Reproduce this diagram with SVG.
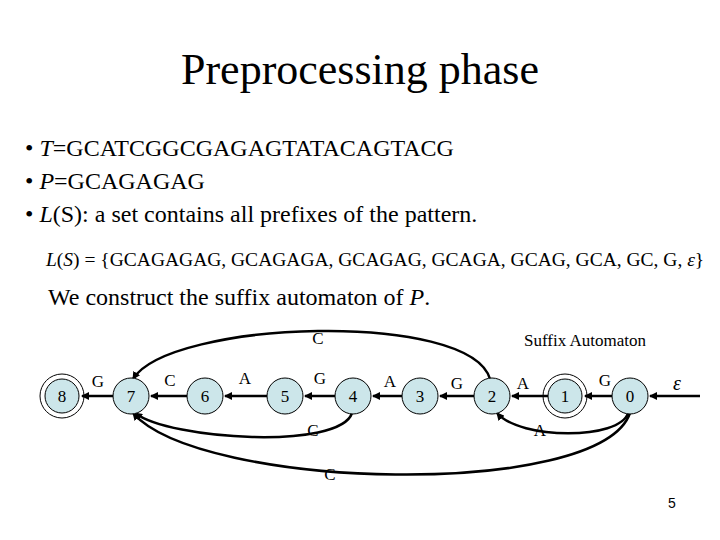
<svg xmlns="http://www.w3.org/2000/svg" width="720" height="540" viewBox="0 0 720 540">
<style>
.t{font-family:"Liberation Serif",serif;fill:#000}
.n circle{fill:#cce6ea;stroke:#000;stroke-width:1}
.n text{font-family:"Liberation Serif",serif;font-size:17px;text-anchor:middle}
.e path{fill:none;stroke:#000;stroke-width:2.5;marker-end:url(#a)}
.l{font-family:"Liberation Serif",serif;font-size:17px;text-anchor:middle}
</style>
<defs><marker id="a" markerWidth="8" markerHeight="8" refX="7" refY="4" orient="auto" markerUnits="userSpaceOnUse"><path d="M0,0L8,4L0,8z" fill="#000"/></marker></defs>
<rect width="720" height="540" fill="#fff"/>
<text class="t" x="360" y="84" font-size="44" text-anchor="middle">Preprocessing phase</text>
<text class="t" x="25" y="156" font-size="24" font-family="Liberation Serif, serif">• <tspan font-style="italic">T</tspan>=GCATCGGCGAGAGTATACAGTACG</text>
<text class="t" x="25" y="189" font-size="24" font-family="Liberation Serif, serif">• <tspan font-style="italic">P</tspan>=GCAGAGAG</text>
<text class="t" x="25" y="222" font-size="24" font-family="Liberation Serif, serif">• <tspan font-style="italic">L</tspan>(S): a set contains all prefixes of the pattern.</text>
<text class="t" x="46" y="266" font-size="19.5"><tspan font-style="italic">L</tspan>(<tspan font-style="italic">S</tspan>) = {GCAGAGAG, GCAGAGA, GCAGAG, GCAGA, GCAG, GCA, GC, G, <tspan font-style="italic">ε</tspan>}</text>
<text class="t" x="48" y="305" font-size="24">We construct the suffix automaton of  <tspan font-style="italic">P</tspan>.</text>
<text class="t" x="585" y="346" font-size="17" text-anchor="middle">Suffix Automaton</text>
<g class="e">
<path d="M613,396H585"/><path d="M548,396H512"/><path d="M475,396H440"/><path d="M403,396H373"/><path d="M336,396H305"/><path d="M268,396H225"/><path d="M188,396H151"/><path d="M114,396H82"/>
<path d="M700,396H650"/>
<path d="M490,379C470,310 170,320 133,379"/>
<path d="M352,413C340,450 170,440 135,413"/>
<path d="M628,413C620,440 520,440 497,413"/>
<path d="M630,413C600,500 200,490 133,413"/>
</g>
<g class="l"><text x="98" y="387">G</text><text x="170" y="386">C</text><text x="245" y="384">A</text><text x="320" y="384">G</text><text x="390" y="387">A</text><text x="457" y="389">G</text><text x="523" y="389">A</text><text x="605" y="386">G</text>
<text x="318" y="344">C</text><text x="313" y="436">C</text><text x="540" y="436">A</text><text x="330" y="480">C</text>
<text x="677" y="390" font-style="italic" font-size="20">ε</text></g>
<g id="n8" class="n"><circle cx="62" cy="396" r="22" style="fill:none"/><circle cx="62" cy="396" r="17"/><text x="62" y="402">8</text></g>
<g id="n7" class="n"><circle cx="131" cy="396" r="18"/><text x="131" y="402">7</text></g>
<g id="n6" class="n"><circle cx="205" cy="396" r="18"/><text x="205" y="402">6</text></g>
<g id="n5" class="n"><circle cx="285" cy="396" r="18"/><text x="285" y="402">5</text></g>
<g id="n4" class="n"><circle cx="353" cy="396" r="18"/><text x="353" y="402">4</text></g>
<g id="n3" class="n"><circle cx="420" cy="396" r="18"/><text x="420" y="402">3</text></g>
<g id="n2" class="n"><circle cx="492" cy="396" r="18"/><text x="492" y="402">2</text></g>
<g id="n1" class="n"><circle cx="565" cy="396" r="22" style="fill:none"/><circle cx="565" cy="396" r="17"/><text x="565" y="402">1</text></g>
<g id="n0" class="n"><circle cx="630" cy="396" r="18"/><text x="630" y="402">0</text></g>
<text x="672" y="508" font-family="Liberation Sans,sans-serif" font-size="14" text-anchor="middle">5</text>
</svg>
